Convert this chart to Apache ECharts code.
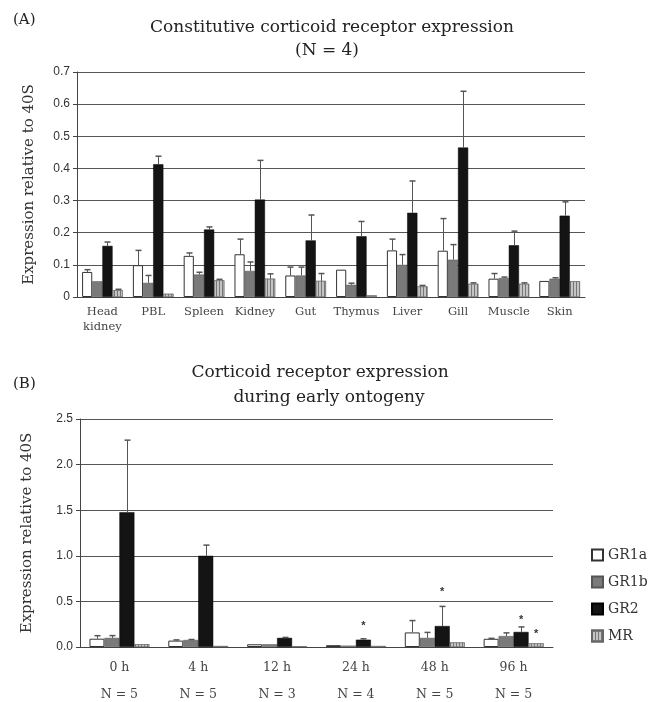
<!DOCTYPE html>
<html><head><meta charset="utf-8">
<script src="https://cdn.jsdelivr.net/npm/echarts@6/dist/echarts.min.js"></script>
<style>html,body{margin:0;padding:0;background:#fff}#c{width:670px;height:702px}</style>
</head><body><div id="c"></div>
<script>
// Panel A data
const tissues = ['Head\nkidney','PBL','Spleen','Kidney','Gut','Thymus','Liver','Gill','Muscle','Skin'];
const gr1aA = [0.078,0.099,0.128,0.133,0.067,0.085,0.145,0.144,0.057,0.050];
const gr1bA = [0.049,0.044,0.070,0.081,0.067,0.038,0.100,0.116,0.059,0.057];
const gr2A  = [0.159,0.413,0.210,0.303,0.176,0.189,0.262,0.465,0.161,0.253];
const mrA   = [0.021,0.010,0.052,0.057,0.050,0.005,0.033,0.041,0.041,0.049];
const sdGr1aA = [0.007,0.046,0.009,0.047,0.026,0,0.035,0.100,0.016,0];
const sdGr1bA = [0,0.023,0.007,0.028,0.026,0.005,0.032,0.047,0.003,0.003];
const sdGr2A  = [0.012,0.025,0.008,0.122,0.079,0.046,0.099,0.175,0.044,0.043];
const sdMrA   = [0.003,0,0.003,0.015,0.023,0,0.003,0.003,0.003,0];
const yTicksA = [0,0.1,0.2,0.3,0.4,0.5,0.6,0.7];

// Panel B data
const times = ['0 h','4 h','12 h','24 h','48 h','96 h'];
const nB = ['N = 5','N = 5','N = 3','N = 4','N = 5','N = 5'];
const gr1aB = [0.091,0.070,0.030,0.020,0.160,0.090];
const gr1bB = [0.100,0.077,0.030,0.015,0.100,0.120];
const gr2B  = [1.478,1.000,0.100,0.080,0.230,0.165];
const mrB   = [0.030,0.010,0.007,0.010,0.050,0.040];
const sdGr1aB = [0.033,0.008,0,0,0.130,0.005];
const sdGr1bB = [0.025,0.005,0,0,0.060,0.035];
const sdGr2B  = [0.790,0.117,0.005,0.010,0.215,0.055];
const sdMrB   = [0,0,0,0,0,0];
// significance asterisks: [time index, receptor index (0..3), height]
const starsB = [[3,2,0.23],[4,2,0.60],[5,2,0.30],[5,3,0.14]];
const yTicksB = [0,0.5,1.0,1.5,2.0,2.5];

const receptors = ['GR1a','GR1b','GR2','MR'];
const serif = 'DejaVu Serif';
const sans = 'Liberation Sans';
const styles = [
  {color:'#ffffff', borderColor:'#333', borderWidth:1},
  {color:'#7a7a7a', borderColor:'#555', borderWidth:0.5},
  {color:'#141414', borderColor:'#000', borderWidth:0.5},
  {color:'#c4c4c4', borderColor:'#666', borderWidth:0.5,
   decal:{symbol:'rect', symbolSize:1, dashArrayX:[1,2], dashArrayY:[10,0], rotation:0, color:'#777'}}
];

function errData(sds, vals){
  const out=[];
  sds.forEach((sdArr,si)=>{ sdArr.forEach((sd,ci)=>{ if(sd>0) out.push([ci,si,vals[si][ci],vals[si][ci]+sd]); }); });
  return out;
}
function makeErr(gridIdx, data, off0, step){
  return {type:'custom', xAxisIndex:gridIdx, yAxisIndex:gridIdx, z:5, silent:true, data:data,
    renderItem:function(params, api){
      const cat=api.value(0), si=api.value(1), v=api.value(2), e=api.value(3);
      const catW=api.size([1,0])[0];
      const p0=api.coord([cat,v]), p1=api.coord([cat,e]);
      const x=Math.round(p0[0]+(off0+step*si)*catW)+0.5;
      return {type:'group', children:[
        {type:'line', shape:{x1:x,y1:p0[1],x2:x,y2:p1[1]}, style:{stroke:'#555',lineWidth:1}},
        {type:'line', shape:{x1:x-3,y1:p1[1],x2:x+3,y2:p1[1]}, style:{stroke:'#555',lineWidth:1.5}}
      ]};
    }};
}

const series=[];
[gr1aA,gr1bA,gr2A,mrA].forEach((d,i)=>series.push({name:receptors[i], type:'bar', xAxisIndex:0, yAxisIndex:0, data:d,
  barGap:'0%', barCategoryGap:'20%', itemStyle:styles[i]}));
[gr1aB,gr1bB,gr2B,mrB].forEach((d,i)=>series.push({name:receptors[i], type:'bar', xAxisIndex:1, yAxisIndex:1, data:d,
  barGap:'0%', barCategoryGap:'24%', itemStyle:styles[i]}));
series.push(makeErr(0, errData([sdGr1aA,sdGr1bA,sdGr2A,sdMrA],[gr1aA,gr1bA,gr2A,mrA]), -0.3, 0.2));
series.push(makeErr(1, errData([sdGr1aB,sdGr1bB,sdGr2B,sdMrB],[gr1aB,gr1bB,gr2B,mrB]), -0.285, 0.19));
series.push({type:'custom', xAxisIndex:1, yAxisIndex:1, z:6, silent:true, data:starsB,
  renderItem:function(params, api){
    const cat=api.value(0), si=api.value(1), h=api.value(2);
    const catW=api.size([1,0])[0];
    const p=api.coord([cat,h]);
    return {type:'text', style:{text:'*', x:p[0]+(-0.285+0.19*si)*catW, y:p[1], align:'center', verticalAlign:'middle',
      font:'bold 11px '+sans, fill:'#333'}};
  }});

const yName='Expression relative to 40S';
const tStyle={fontFamily:serif, fontSize:17, fontWeight:'normal', color:'#222'};
const option={
  animation:false,
  backgroundColor:'#fff',
  title:[
    {text:'(A)', left:8, top:8, textStyle:{fontFamily:serif, fontSize:15, fontWeight:'normal', color:'#222'}},
    {text:'Constitutive corticoid receptor expression', left:327, top:14, textAlign:'center', textStyle:tStyle},
    {text:'(N = 4)', left:322, top:37, textAlign:'center', textStyle:tStyle},
    {text:'(B)', left:8, top:372, textStyle:{fontFamily:serif, fontSize:15, fontWeight:'normal', color:'#222'}},
    {text:'Corticoid receptor expression', left:315, top:359, textAlign:'center', textStyle:tStyle},
    {text:'during early ontogeny', left:324, top:384, textAlign:'center', textStyle:tStyle}
  ],
  legend:{data:receptors, orient:'vertical', left:586, top:543, itemWidth:11, itemHeight:11, itemGap:13, icon:'rect',
    textStyle:{fontFamily:serif, fontSize:14, color:'#333'}, selectedMode:false},
  grid:[
    {left:77, right:85, top:72, height:225, outerBoundsMode:'none', containLabel:false},
    {left:80, right:117, top:419, height:228, outerBoundsMode:'none', containLabel:false}
  ],
  xAxis:[
    {type:'category', gridIndex:0, data:tissues,
     axisLine:{lineStyle:{color:'#444'}}, axisTick:{length:4, lineStyle:{color:'#444'}},
     axisLabel:{fontFamily:serif, fontSize:11.5, color:'#444', margin:8, lineHeight:15, interval:0}},
    {type:'category', gridIndex:1, data:times,
     axisLine:{lineStyle:{color:'#444'}}, axisTick:{length:4, lineStyle:{color:'#444'}},
     axisLabel:{fontFamily:serif, fontSize:12.5, color:'#444', margin:7, lineHeight:27, interval:0,
       formatter:function(v, i){ return v+'\n'+nB[i]; }}}
  ],
  yAxis:[
    {type:'value', gridIndex:0, min:yTicksA[0], max:yTicksA[yTicksA.length-1], interval:0.1,
     name:yName, nameLocation:'middle', nameGap:40, nameTextStyle:{fontFamily:serif, fontSize:15, color:'#333'},
     axisLine:{show:true, lineStyle:{color:'#444'}}, axisTick:{show:true, length:4, lineStyle:{color:'#444'}},
     axisLabel:{fontFamily:sans, fontSize:12, color:'#333', margin:7, formatter:v=>v===0?'0':v.toFixed(1)},
     splitLine:{lineStyle:{color:'#555', width:1}}},
    {type:'value', gridIndex:1, min:yTicksB[0], max:yTicksB[yTicksB.length-1], interval:0.5,
     name:yName, nameLocation:'middle', nameGap:45, nameTextStyle:{fontFamily:serif, fontSize:15, color:'#333'},
     axisLine:{show:true, lineStyle:{color:'#444'}}, axisTick:{show:true, length:4, lineStyle:{color:'#444'}},
     axisLabel:{fontFamily:sans, fontSize:12, color:'#333', margin:7, formatter:v=>v.toFixed(1)},
     splitLine:{lineStyle:{color:'#555', width:1}}}
  ],
  series:series
};
const chart=echarts.init(document.getElementById('c'));
chart.setOption(option);
</script>
</body></html>
